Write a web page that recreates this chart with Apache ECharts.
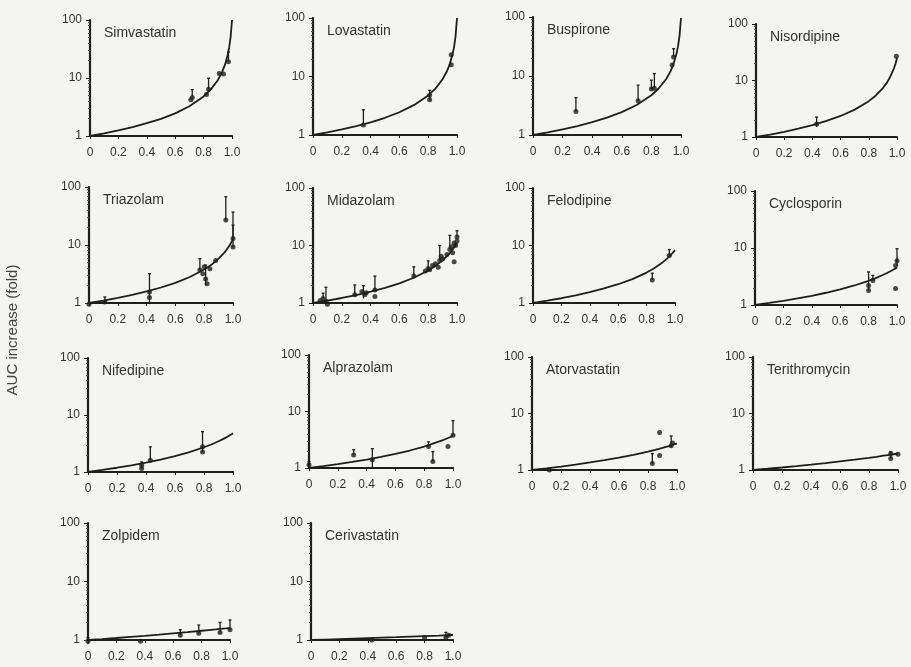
<!DOCTYPE html>
<html><head><meta charset="utf-8">
<script src="https://cdn.jsdelivr.net/npm/echarts@6/dist/echarts.min.js"></script>
<style>html,body{margin:0;padding:0;background:#f4f4f2}#c{width:911px;height:667px}</style>
</head><body><div id="c"></div><script>
// ---------- data ----------
const drugNames = ['Simvastatin','Lovastatin','Buspirone','Nisordipine',
  'Triazolam','Midazolam','Felodipine','Cyclosporin',
  'Nifedipine','Alprazolam','Atorvastatin','Terithromycin',
  'Zolpidem','Cerivastatin'];
const xTickLabels = ['0','0.2','0.4','0.6','0.8','1.0'];
const yTickLabels = ['1','10','100'];
const yAxisTitle = 'AUC increase (fold)';

// model curves (x = fraction inhibited)
const curveX = [0,0.1,0.2,0.3,0.4,0.5,0.6,0.7,0.8,0.85,0.9,0.93,0.95,0.97,0.98,0.99,1.0];
const curveSimvastatin  = [1,1.11,1.25,1.42,1.66,1.98,2.46,3.26,4.81,6.31,9.17,12.6,16.8,25.2,33.6,50.3,100];
const curveLovastatin   = [1,1.11,1.25,1.42,1.65,1.97,2.45,3.24,4.75,6.2,9.0,12.3,16.3,24.5,32.5,49,100];
const curveBuspirone    = [1,1.11,1.24,1.42,1.65,1.97,2.44,3.22,4.72,6.2,8.9,12.1,16.2,24,32,48,96];
const curveNisordipine  = [1,1.106,1.238,1.404,1.623,1.923,2.358,3.049,4.31,5.43,7.35,9.26,11.4,14.6,16.9,20.0,25];
const curveTriazolam    = [1,1.10,1.225,1.38,1.58,1.85,2.23,2.81,3.79,4.55,5.81,6.93,7.94,9.31,10.2,11.3,12.5];
const curveMidazolam    = [1,1.10,1.222,1.376,1.57,1.83,2.20,2.75,3.68,4.42,5.52,6.51,7.38,8.53,9.24,10.09,11.1];
const curveFelodipine   = [1,1.096,1.21,1.36,1.54,1.79,2.12,2.60,3.38,3.97,4.81,5.51,6.10,6.83,7.27,7.76,8.33];
const curveCyclosporin  = [1,1.085,1.185,1.31,1.45,1.64,1.88,2.20,2.66,2.97,3.36,3.64,3.86,4.11,4.24,4.39,4.55];
const curveNifedipine   = [1,1.086,1.188,1.31,1.46,1.65,1.90,2.24,2.72,3.04,3.46,3.77,4.01,4.28,4.43,4.59,4.76];
const curveAlprazolam   = [1,1.079,1.171,1.28,1.41,1.575,1.78,2.04,2.40,2.64,2.92,3.11,3.26,3.43,3.51,3.61,3.70];
const curveAtorvastatin = [1,1.071,1.152,1.246,1.36,1.49,1.66,1.86,2.12,2.28,2.46,2.59,2.68,2.78,2.84,2.89,2.94];
const curveTerithromycin= [1,1.052,1.108,1.17,1.24,1.32,1.42,1.52,1.64,1.71,1.79,1.84,1.87,1.90,1.92,1.94,1.96];
const curveZolpidem     = [1,1.039,1.082,1.13,1.18,1.235,1.30,1.36,1.44,1.48,1.52,1.55,1.565,1.58,1.59,1.60,1.61];
const curveCerivastatin = [1,1.018,1.037,1.057,1.078,1.099,1.12,1.144,1.168,1.18,1.19,1.20,1.206,1.211,1.214,1.217,1.22];

// observed points [x, AUC ratio]
const ptsSimvastatin  = [[0.71,4.2],[0.72,4.6],[0.82,5.2],[0.835,6.4],[0.91,12],[0.94,11.7],[0.975,19]];
const ptsLovastatin   = [[0.35,1.48],[0.81,4.0],[0.81,4.8],[0.96,15.9],[0.96,23.5]];
const ptsBuspirone    = [[0.29,2.5],[0.71,3.8],[0.8,6.0],[0.82,6.2],[0.94,15.3],[0.95,21]];
const ptsNisordipine  = [[0.43,1.7],[0.995,27]];
const ptsTriazolam    = [[0,0.95],[0.11,1.04],[0.42,1.55],[0.42,1.25],[0.77,3.7],[0.79,3.2],[0.8,4.2],[0.81,2.6],[0.82,2.15],[0.84,3.9],[0.88,5.4],[0.95,27],[1.0,12.9],[1.0,9.2]];
const ptsMidazolam    = [[0.05,1.1],[0.07,1.2],[0.09,1.07],[0.1,0.95],[0.29,1.39],[0.34,1.58],[0.36,1.39],[0.37,1.5],[0.43,1.69],[0.43,1.3],[0.7,2.94],[0.78,3.6],[0.8,4.0],[0.81,3.8],[0.83,4.5],[0.85,4.8],[0.87,4.2],[0.88,5.5],[0.89,6.5],[0.9,5.8],[0.93,7.0],[0.95,8.5],[0.96,9.5],[0.97,7.5],[0.98,11],[0.99,10],[1.0,12],[1.0,14],[0.98,5.2]];
const ptsFelodipine   = [[0.84,2.5],[0.96,6.7]];
const ptsCyclosporin  = [[0.8,2.2],[0.8,1.8],[0.83,2.7],[0.99,1.95],[0.99,4.95],[1.0,6.0]];
const ptsNifedipine   = [[0.37,1.15],[0.37,1.31],[0.43,1.6],[0.79,2.76],[0.79,2.25]];
const ptsAlprazolam   = [[0,1.14],[0.31,1.7],[0.44,1.4],[0.83,2.4],[0.86,1.3],[0.965,2.4],[1.0,3.8]];
const ptsAtorvastatin = [[0.12,1.0],[0.83,1.3],[0.88,4.6],[0.88,1.8],[0.96,2.7],[0.97,3.0]];
const ptsTerithromycin= [[0.95,1.6],[0.95,1.95],[1.0,1.9]];
const ptsZolpidem     = [[0,0.95],[0.37,0.95],[0.65,1.2],[0.78,1.3],[0.93,1.35],[1.0,1.5]];
const ptsCerivastatin = [[0.43,1.0],[0.8,1.1],[0.95,1.1],[0.97,1.2]];

// error bars [x, low, high]
const barsSimvastatin  = [[0.72,4.6,6.3],[0.835,6.4,9.9],[0.975,19,28]];
const barsLovastatin   = [[0.35,1.48,2.7],[0.81,4.0,5.8]];
const barsBuspirone    = [[0.29,2.5,4.3],[0.71,3.8,7.0],[0.8,6.0,8.5],[0.82,6.2,11],[0.95,21,29]];
const barsNisordipine  = [[0.43,1.5,2.25]];
const barsTriazolam    = [[0.11,1.04,1.27],[0.42,1.0,3.2],[0.77,3.7,5.8],[0.81,2.0,4.5],[0.95,27,68],[1.0,12.9,37],[1.0,9.2,22]];
const barsMidazolam    = [[0.07,1.2,1.48],[0.09,1.07,1.88],[0.29,1.39,2.06],[0.35,1.2,2.0],[0.43,1.69,2.94],[0.7,2.94,4.25],[0.8,3.5,5.4],[0.88,5.5,10],[0.95,8.5,15],[1.0,14,18]];
const barsFelodipine   = [[0.84,2.5,3.3],[0.96,6.7,8.5]];
const barsCyclosporin  = [[0.8,1.8,3.8],[0.83,2.7,3.3],[1.0,4.95,9.7]];
const barsNifedipine   = [[0.37,1.15,1.5],[0.43,1.6,2.76],[0.79,2.25,5.1]];
const barsAlprazolam   = [[0,1.0,1.3],[0.31,1.7,2.1],[0.44,1.0,2.2],[0.83,2.4,2.9],[0.86,1.3,1.95],[1.0,3.8,6.9]];
const barsAtorvastatin = [[0.83,1.3,1.95],[0.96,2.5,4.0]];
const barsTerithromycin= [[0.95,1.6,2.1]];
const barsZolpidem     = [[0,0.85,1.1],[0.65,1.2,1.5],[0.78,1.3,1.8],[0.93,1.35,2.0],[1.0,1.5,2.2]];
const barsCerivastatin = [[0.95,1.1,1.35]];

const curves = [curveSimvastatin,curveLovastatin,curveBuspirone,curveNisordipine,curveTriazolam,curveMidazolam,curveFelodipine,curveCyclosporin,curveNifedipine,curveAlprazolam,curveAtorvastatin,curveTerithromycin,curveZolpidem,curveCerivastatin];
const points = [ptsSimvastatin,ptsLovastatin,ptsBuspirone,ptsNisordipine,ptsTriazolam,ptsMidazolam,ptsFelodipine,ptsCyclosporin,ptsNifedipine,ptsAlprazolam,ptsAtorvastatin,ptsTerithromycin,ptsZolpidem,ptsCerivastatin];
const bars = [barsSimvastatin,barsLovastatin,barsBuspirone,barsNisordipine,barsTriazolam,barsMidazolam,barsFelodipine,barsCyclosporin,barsNifedipine,barsAlprazolam,barsAtorvastatin,barsTerithromycin,barsZolpidem,barsCerivastatin];

// ---------- layout (pixels): left, top(=100), bottom(=1), width ----------
const layout = [
  [90,20,136,142],[313,18,135,144],[533,17,135,148],[756,24,137,141],
  [89,187,303,144],[313,188,303,144],[533,188,303,142],[755,191,305,142],
  [88,358,472,145],[309,355,468,144],[532,357,470,145],[753,357,470,145],
  [88,523,640,142],[311,523,640,142]
];

const ink = '#1e1e1e', txt = '#333';
const font = 'Liberation Sans';
const grid=[], xAxis=[], yAxis=[], series=[], title=[];
layout.forEach((L,i)=>{
  const [left,top,bottom,width]=L;
  grid.push({left:left,top:top,width:width,height:bottom-top,containLabel:false});
  xAxis.push({type:'value',gridIndex:i,min:0,max:1,interval:0.2,
    axisLine:{show:true,onZero:false,lineStyle:{color:ink,width:2.2}},
    axisTick:{show:true,length:3,lineStyle:{color:ink}},
    splitLine:{show:false},
    axisLabel:{color:txt,fontSize:12,fontFamily:font,margin:11,
      formatter:v=>xTickLabels[Math.round(v/0.2)]}});
  yAxis.push({type:'log',gridIndex:i,min:1,max:100,logBase:10,
    axisLine:{show:true,lineStyle:{color:ink,width:2.2}},
    axisTick:{show:true,length:4,lineStyle:{color:ink}},
    minorTick:{show:true,splitNumber:9,length:2,lineStyle:{color:'#555'}},
    splitLine:{show:false},minorSplitLine:{show:false},
    axisLabel:{color:txt,fontSize:12,fontFamily:font,margin:8,
      formatter:v=>yTickLabels[Math.round(Math.log10(v))]}});
  title.push({text:drugNames[i],left:left+9,top:top+1,
    textStyle:{color:txt,fontSize:14,fontWeight:'normal',fontFamily:font}});
  series.push({type:'line',xAxisIndex:i,yAxisIndex:i,
    data:curveX.map((x,k)=>[x,curves[i][k]]),
    showSymbol:false,smooth:false,
    lineStyle:{color:ink,width:1.8},clip:true,silent:true});
  series.push({type:'custom',xAxisIndex:i,yAxisIndex:i,clip:false,
    data:bars[i],
    renderItem:(params,api)=>{
      const lo=api.coord([api.value(0),api.value(1)]);
      const hi=api.coord([api.value(0),api.value(2)]);
      return {type:'group',children:[
        {type:'line',shape:{x1:lo[0],y1:lo[1],x2:hi[0],y2:hi[1]},style:{stroke:ink,lineWidth:1.3}},
        {type:'line',shape:{x1:hi[0]-1.5,y1:hi[1],x2:hi[0]+1.5,y2:hi[1]},style:{stroke:ink,lineWidth:1.3}}
      ]};
    }});
  series.push({type:'scatter',xAxisIndex:i,yAxisIndex:i,clip:false,
    data:points[i],symbol:'circle',symbolSize:5,
    itemStyle:{color:ink}});
});

const chart = echarts.init(document.getElementById('c'),null,{renderer:'canvas'});
chart.setOption({
  backgroundColor:'#f4f4f2',
  animation:false,
  title:title,grid:grid,xAxis:xAxis,yAxis:yAxis,series:series,
  graphic:[{type:'text',x:13,y:330,rotation:Math.PI/2,
    style:{text:yAxisTitle,fill:'#444',fontSize:15,fontFamily:font,
      textAlign:'center',textVerticalAlign:'middle'}}]
});
</script></body></html>
